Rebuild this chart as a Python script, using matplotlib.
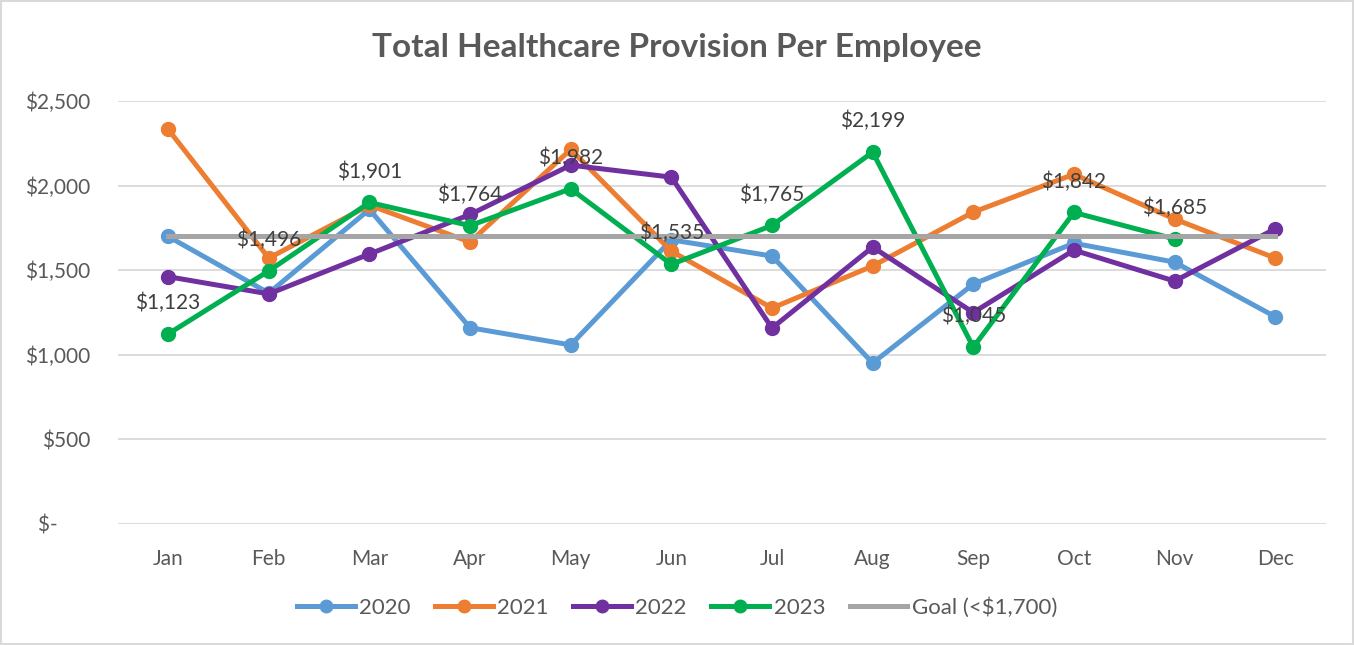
import matplotlib
matplotlib.use("Agg")
import matplotlib.pyplot as plt
from matplotlib.patches import Rectangle

plt.rcParams['font.family'] = ['Lato', 'DejaVu Sans']

months = ['Jan', 'Feb', 'Mar', 'Apr', 'May', 'Jun', 'Jul', 'Aug', 'Sep', 'Oct', 'Nov', 'Dec']
y2020 = [1700, 1365, 1860, 1160, 1058, 1680, 1584, 951, 1418, 1660, 1548, 1225]
y2021 = [2334, 1572, 1885, 1667, 2215, 1613, 1276, 1525, 1844, 2068, 1803, 1572]
y2022 = [1462, 1360, 1596, 1830, 2122, 2051, 1158, 1637, 1250, 1619, 1436, 1745]
y2023 = [1123, 1496, 1901, 1764, 1982, 1535, 1765, 2199, 1045, 1842, 1685]
goal = [1700] * 12

yticks = [0, 500, 1000, 1500, 2000, 2500]
ytick_labels = ['$-      ', '$500', '$1,000', '$1,500', '$2,000', '$2,500']

grey = '#595959'

fig = plt.figure(figsize=(13.54, 6.45), dpi=100)
ax = fig.add_axes([0.087, 0.188, 0.892, 0.655])

x = list(range(12))
lw = 3.6
ms = 10
ax.plot(x, y2020, color='#5b9bd5', lw=lw, marker='o', ms=ms, label='2020', zorder=3)
ax.plot(x, y2021, color='#ed7d31', lw=lw, marker='o', ms=ms, label='2021', zorder=4)
ax.plot(x, y2022, color='#7030a0', lw=lw, marker='o', ms=ms, label='2022', zorder=5)
ax.plot(x[:len(y2023)], y2023, color='#00b050', lw=lw, marker='o', ms=ms, label='2023', zorder=6)
ax.plot(x, goal, color='#a5a5a5', lw=lw, label='Goal (<$1,700)', zorder=7)

# data labels only for 2023
for i, v in enumerate(y2023):
    ax.annotate('${:,}'.format(v), (i, v), xytext=(0, 15), textcoords='offset points',
                ha='center', va='bottom', fontsize=15, color='#404040', zorder=8)

ax.set_xlim(-0.5, 11.5)
ax.set_ylim(0, 2500)
ax.set_yticks(yticks)
ax.set_yticklabels(ytick_labels)
ax.set_xticks(x)
ax.set_xticklabels(months)
ax.tick_params(axis='both', length=0, labelsize=15, labelcolor=grey)
ax.tick_params(axis='x', pad=18)
ax.tick_params(axis='y', pad=20)
ax.grid(axis='y', color='#d9d9d9', lw=1.3)
ax.set_axisbelow(True)
for s in ax.spines.values():
    s.set_visible(False)

fig.text(0.5, 0.927, 'Total Healthcare Provision Per Employee', ha='center', va='center',
         fontsize=24, fontweight='bold', color=grey)

fig.legend(loc='center', bbox_to_anchor=(0.5, 0.058), ncol=5, frameon=False,
           fontsize=16, labelcolor=grey, handlelength=2.6, handletextpad=0.2,
           columnspacing=1.1, markerscale=0.9)

fig.patches.append(Rectangle((0.001, 0.001), 0.998, 0.998, transform=fig.transFigure,
                             fill=False, edgecolor='#d9d9d9', lw=1.5))

fig.savefig('out.png', dpi=100, facecolor='white')
